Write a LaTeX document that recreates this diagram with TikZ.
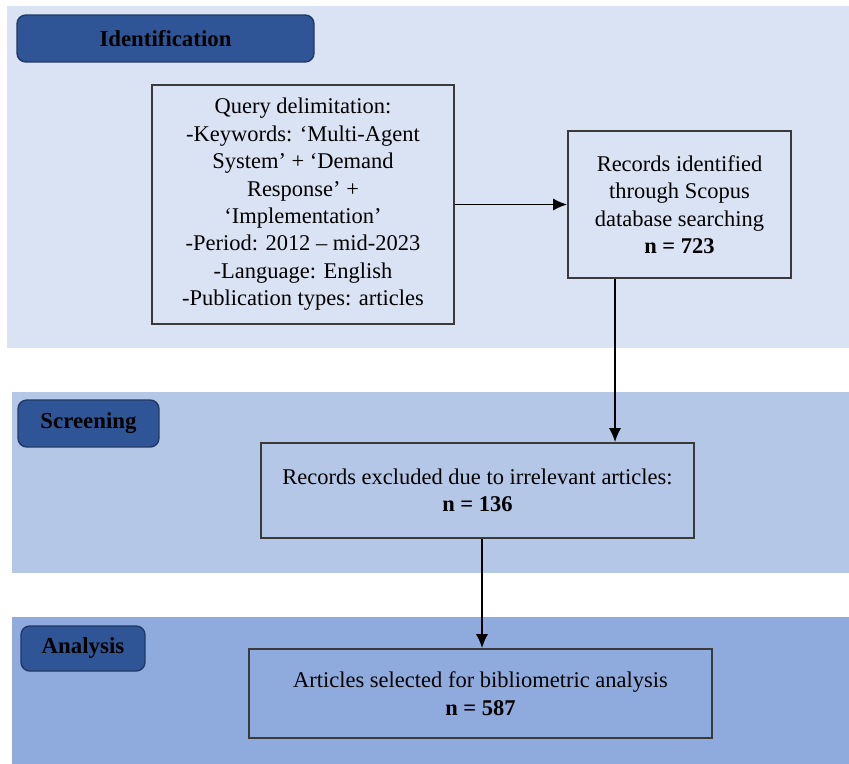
\documentclass[tikz,border=0pt]{standalone}
\usepackage{fontspec}
\setmainfont{Liberation Serif}
\usepackage{xcolor}
\usetikzlibrary{arrows.meta}

\definecolor{bandA}{HTML}{DAE3F3}
\definecolor{bandB}{HTML}{B4C7E7}
\definecolor{bandC}{HTML}{8FAADC}
\definecolor{tabfill}{HTML}{2F5597}
\definecolor{tabedge}{HTML}{1F3864}
\definecolor{boxedge}{HTML}{3A3A3A}

\tikzset{
  phase/.style={rounded corners=5pt, fill=tabfill, draw=tabedge, line width=0.8pt,
    font=\fontsize{13}{15.6}\selectfont\bfseries, text=black, inner sep=0pt},
  stepbox/.style={draw=boxedge, line width=1pt, align=center, inner sep=2pt,
    font=\fontsize{12.8}{15.6}\selectfont},
  flow/.style={-{Latex[length=8pt,width=7pt]}, line width=1.1pt, black}
}

\begin{document}
\begin{tikzpicture}[x=0.02cm, y=-0.02cm]
            \useasboundingbox (0,0) rectangle (849,764);

            % phase bands
            \fill[bandA] (7,6) rectangle (849,348);
            \fill[bandB] (12,392) rectangle (849,573);
            \fill[bandC] (12,617) rectangle (849,764);

            % phase tabs
            \node[phase, minimum width=5.94cm, minimum height=0.94cm] (ident) at (165.5,38.5) {Identification};
            \node[phase, minimum width=2.82cm, minimum height=0.94cm] (screen) at (88.5,423.5) {Screening};
            \node[phase, minimum width=2.48cm, minimum height=0.9cm] (anal) at (83,648.5) {Analysis};

            % boxes
            \node[stepbox, minimum width=6.04cm, minimum height=4.78cm] (query) at (303,204.5)
                {Query delimitation:\\-Keywords: ‘Multi-Agent\\System’ + ‘Demand\\Response’ +\\‘Implementation’\\-Period: 2012 -- mid-2023\\-Language: English\\-Publication types: articles};
            \node[stepbox, minimum width=4.46cm, minimum height=2.94cm] (records) at (679.5,204.5)
                {Records identified\\through Scopus\\database searching\\\textbf{n = 723}};
            \node[stepbox, minimum width=8.66cm, minimum height=1.9cm] (excluded) at (477.5,490.5)
                {Records excluded due to irrelevant articles:\\\textbf{n = 136}};
            \node[stepbox, minimum width=9.26cm, minimum height=1.78cm] (selected) at (480.5,693.5)
                {Articles selected for bibliometric analysis\\\textbf{n = 587}};

            % arrows
            \draw[flow] (query.east) -- (records.west);
            \draw[flow] ([xshift=-1.29cm]records.south) -- ([xshift=-1.29cm]records.south |- excluded.north);
            \draw[flow] ([xshift=0.09cm]excluded.south) -- ([xshift=0.09cm]excluded.south |- selected.north);
        \end{tikzpicture}
\end{document}
